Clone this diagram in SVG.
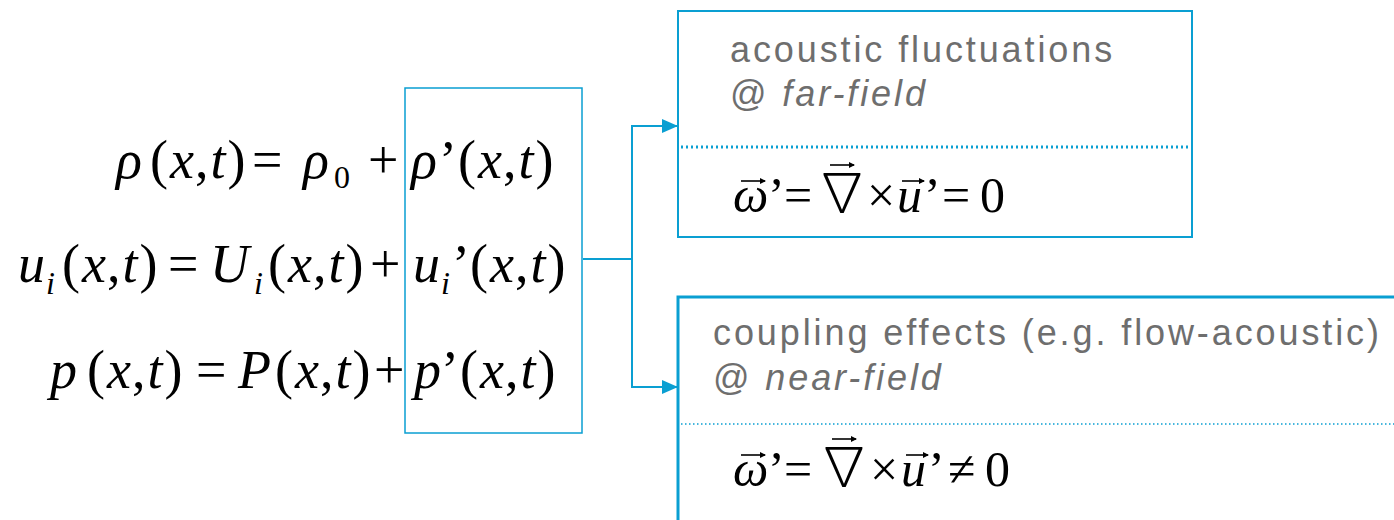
<svg xmlns="http://www.w3.org/2000/svg" width="1394" height="520" viewBox="0 0 1394 520">
<style>
.m{font-family:"Liberation Serif","DejaVu Serif",serif;font-size:54px;fill:#000}
.f{font-family:"Liberation Serif","DejaVu Serif",serif;font-size:50px;fill:#000}
.i{font-style:italic}
.sub{font-size:32px;font-style:italic}
.sub0{font-size:32px}
.nab{font-family:"Noto Sans CJK JP","DejaVu Serif",serif;font-weight:300;font-size:54px}
.lbl{font-family:"Liberation Sans",Arial,sans-serif;font-size:36px;fill:#6e6e6e;letter-spacing:2.9px}
.box{fill:none;stroke:#0a9fd2}
.con{fill:none;stroke:#0a9fd2;stroke-width:2}
.acc{stroke:#000;stroke-width:1.6;fill:none}
</style>
<defs>
<marker id="ah" markerUnits="userSpaceOnUse" markerWidth="16" markerHeight="14" refX="15" refY="7" orient="auto">
<path d="M0,0 L16,7 L0,14 Z" fill="#0a9fd2"/>
</marker>
<marker id="va" markerUnits="userSpaceOnUse" markerWidth="6" markerHeight="6" refX="5" refY="3" orient="auto">
<path d="M0,0 L6,3 L0,6 Z" fill="#000"/>
</marker>
</defs>

<g id="equations">
<text class="m" y="178"><tspan class="i" x="116">ρ</tspan><tspan x="150">(<tspan class="i" dx="2">x</tspan><tspan dx="1">,</tspan><tspan class="i" dx="2">t</tspan><tspan dx="2">)</tspan></tspan><tspan x="252">=</tspan><tspan class="i" x="303">ρ</tspan><tspan class="sub0" x="334" dy="10">0</tspan><tspan x="368" dy="-10">+</tspan><tspan class="i" x="411">ρ</tspan><tspan x="439">’</tspan><tspan x="458">(<tspan class="i" dx="2">x</tspan><tspan dx="1">,</tspan><tspan class="i" dx="2">t</tspan><tspan dx="2">)</tspan></tspan></text>
<text class="m" y="282"><tspan class="i" x="18">u</tspan><tspan class="sub" x="46" dy="12">i</tspan><tspan x="62" dy="-12">(<tspan class="i" dx="2">x</tspan><tspan dx="1">,</tspan><tspan class="i" dx="2">t</tspan><tspan dx="2">)</tspan></tspan><tspan x="168">=</tspan><tspan class="i" x="210">U</tspan><tspan class="sub" x="254" dy="12">i</tspan><tspan x="268" dy="-12">(<tspan class="i" dx="2">x</tspan><tspan dx="1">,</tspan><tspan class="i" dx="2">t</tspan><tspan dx="2">)</tspan></tspan><tspan x="370">+</tspan><tspan class="i" x="413">u</tspan><tspan class="sub" x="441" dy="12">i</tspan><tspan x="452" dy="-12">’</tspan><tspan x="470">(<tspan class="i" dx="2">x</tspan><tspan dx="1">,</tspan><tspan class="i" dx="2">t</tspan><tspan dx="2">)</tspan></tspan></text>
<text class="m" y="388"><tspan class="i" x="50">p</tspan><tspan x="87">(<tspan class="i" dx="2">x</tspan><tspan dx="1">,</tspan><tspan class="i" dx="2">t</tspan><tspan dx="2">)</tspan></tspan><tspan x="196">=</tspan><tspan class="i" x="238">P</tspan><tspan x="275">(<tspan class="i" dx="2">x</tspan><tspan dx="1">,</tspan><tspan class="i" dx="2">t</tspan><tspan dx="2">)</tspan></tspan><tspan x="374">+</tspan><tspan class="i" x="414">p</tspan><tspan x="441">’</tspan><tspan x="460">(<tspan class="i" dx="2">x</tspan><tspan dx="1">,</tspan><tspan class="i" dx="2">t</tspan><tspan dx="2">)</tspan></tspan></text>
</g>

<g id="fluct-box">
<rect class="box" x="405" y="88" width="177" height="345" stroke-width="1.5"/>
</g>

<g id="far-field">
<rect class="box" x="678" y="11" width="514" height="226" stroke-width="2"/>
<text class="lbl" x="730" y="62">acoustic fluctuations</text>
<text class="lbl" x="730" y="106">@ <tspan font-style="italic">far-field</tspan></text>
<line x1="681" y1="147" x2="1190" y2="147" stroke="#0a9fd2" stroke-width="3" stroke-dasharray="2 3"/>
<text class="f" y="212"><tspan class="i" x="733">ω</tspan><tspan x="768">’</tspan><tspan x="784">=</tspan><tspan class="nab" x="815">∇</tspan><tspan x="867">×</tspan><tspan class="i" x="897">u</tspan><tspan x="924">’</tspan><tspan x="942">=</tspan><tspan x="980">0</tspan></text>
<line class="acc" x1="830" y1="165" x2="854" y2="165" marker-end="url(#va)"/>
<line class="acc" x1="741" y1="181" x2="765" y2="181" marker-end="url(#va)"/>
<line class="acc" x1="902" y1="181" x2="924" y2="181" marker-end="url(#va)"/>
</g>

<g id="near-field">
<rect class="box" x="678" y="297" width="800" height="300" stroke-width="3"/>
<text class="lbl" x="713" y="345">coupling effects (e.g. flow-acoustic)</text>
<text class="lbl" x="713" y="390">@ <tspan font-style="italic">near-field</tspan></text>
<line x1="681" y1="424" x2="1394" y2="424" stroke="#0a9fd2" stroke-width="1.5" stroke-dasharray="1.5 2.5"/>
<text class="f" y="486"><tspan class="i" x="733">ω</tspan><tspan x="768">’</tspan><tspan x="784">=</tspan><tspan class="nab" x="817">∇</tspan><tspan x="870">×</tspan><tspan class="i" x="901">u</tspan><tspan x="928">’</tspan><tspan x="948">≠</tspan><tspan x="985">0</tspan></text>
<line class="acc" x1="741" y1="455" x2="765" y2="455" marker-end="url(#va)"/>
<line class="acc" x1="832" y1="439" x2="856" y2="439" marker-end="url(#va)"/>
<line class="acc" x1="906" y1="455" x2="928" y2="455" marker-end="url(#va)"/>
</g>

<g id="connectors">
<polyline class="con" points="583,259 632,259"/>
<polyline class="con" points="632,126 632,387"/>
<polyline class="con" points="631,126 677,126" marker-end="url(#ah)"/>
<polyline class="con" points="631,387 677,387" marker-end="url(#ah)"/>
</g>
</svg>
